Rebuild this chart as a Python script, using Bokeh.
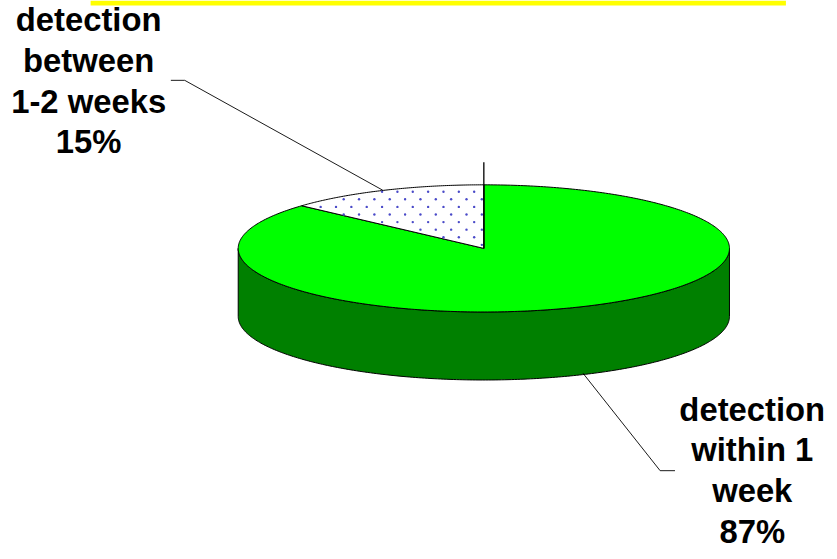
import numpy as np
from bokeh.plotting import figure
from bokeh.models import Range1d
from bokeh.core.properties import value
from bokeh.embed import file_html
from bokeh.resources import INLINE

# data
shares = [86.7, 13.3]   # drawn share of the pie: within 1 week, between 1-2 weeks
labels_within = ["detection", "within 1", "week", "87%"]
labels_between = ["detection", "between", "1-2 weeks", "15%"]

# geometry of the pie in reference pixels
CX, CY, RX, RY, DEPTH = 488.0, 251.5, 248.0, 64.5, 69.0
W, H = 829, 551   # visible box inside the page margin
PW, PH = 837, 559  # the data space: the reference's full frame

p = figure(width=W, height=H, output_backend="svg", toolbar_location=None,
           x_range=Range1d(0, PW), y_range=Range1d(PH, 0),
           min_border=0, min_border_left=0, min_border_right=0,
           min_border_top=0, min_border_bottom=0, outline_line_color=None)
p.xaxis.visible = False
p.yaxis.visible = False
p.grid.visible = False
p.background_fill_color = "white"
p.border_fill_color = "white"


def ell(theta):
    """theta is clockwise from the top of the ellipse."""
    return CX + RX * np.sin(theta), CY - RY * np.cos(theta)


# banner strip at the top
p.quad(left=[91], right=[793], top=[0], bottom=[5], fill_color="#ffff00", line_color=None)

# side wall (front half of the ellipse, dropped by DEPTH)
t = np.linspace(np.pi / 2, 3 * np.pi / 2, 240)
ex, ey = ell(t)
p.patch(np.r_[ex, ex[::-1]], np.r_[ey, ey[::-1] + DEPTH],
        fill_color="#008000", line_color="black", line_width=1)

# top face slices
slice_angle = 2 * np.pi * shares[1] / sum(shares)
start = 2 * np.pi - slice_angle
t1 = np.linspace(0, start, 400)
x1, y1 = ell(t1)
p.patch(np.r_[CX, x1], np.r_[CY, y1], fill_color="#00ff00", line_color="black", line_width=1)

t2 = np.linspace(start, 2 * np.pi, 100)
x2, y2 = ell(t2)
p.patch(np.r_[CX, x2], np.r_[CY, y2], fill_color="white", line_color="black", line_width=1)

# dotted texture inside the small slice
dx, dy = [], []
for r, yy in enumerate(np.arange(194.0, CY, 7.7)):
    for xx in np.arange(307.0 + (7.75 if r % 2 == 0 else 0.0) + 8.5, CX, 15.5):
        u, v = (xx - CX) / RX, (yy - CY) / RY
        th = np.arctan2(u, -v) % (2 * np.pi)
        if u * u + v * v < 0.985 and th > start + 0.012:
            dx.append(xx)
            dy.append(yy)
p.scatter(dx, dy, size=2.4, marker="circle", fill_color="#4a4ac8", line_color=None)

# vertical start line and leaders
p.line([CX, CX], [164, CY], line_color="black", line_width=1.3)
p.line([172, 186, 386], [81, 81, 192.5], line_color="black", line_width=0.9)
p.line([588, 666, 681], [378, 477, 477], line_color="black", line_width=0.9)

# labels (the renderer draws the baseline about 12.5px below the anchor)
BASE_SHIFT = 12.5
for lines, cx, base in ((labels_between, 89, [32, 73, 115, 156]),
                        (labels_within, 759, [427, 468, 510, 551])):
    p.text(x=[cx] * 4, y=[b - BASE_SHIFT for b in base], text=lines,
           text_align="center", text_baseline="alphabetic",
           text_font=value("Liberation Sans"), text_font_style="bold",
           text_font_size="32.8px", text_color="black")

open("out.html", "w").write(file_html(p, INLINE))
